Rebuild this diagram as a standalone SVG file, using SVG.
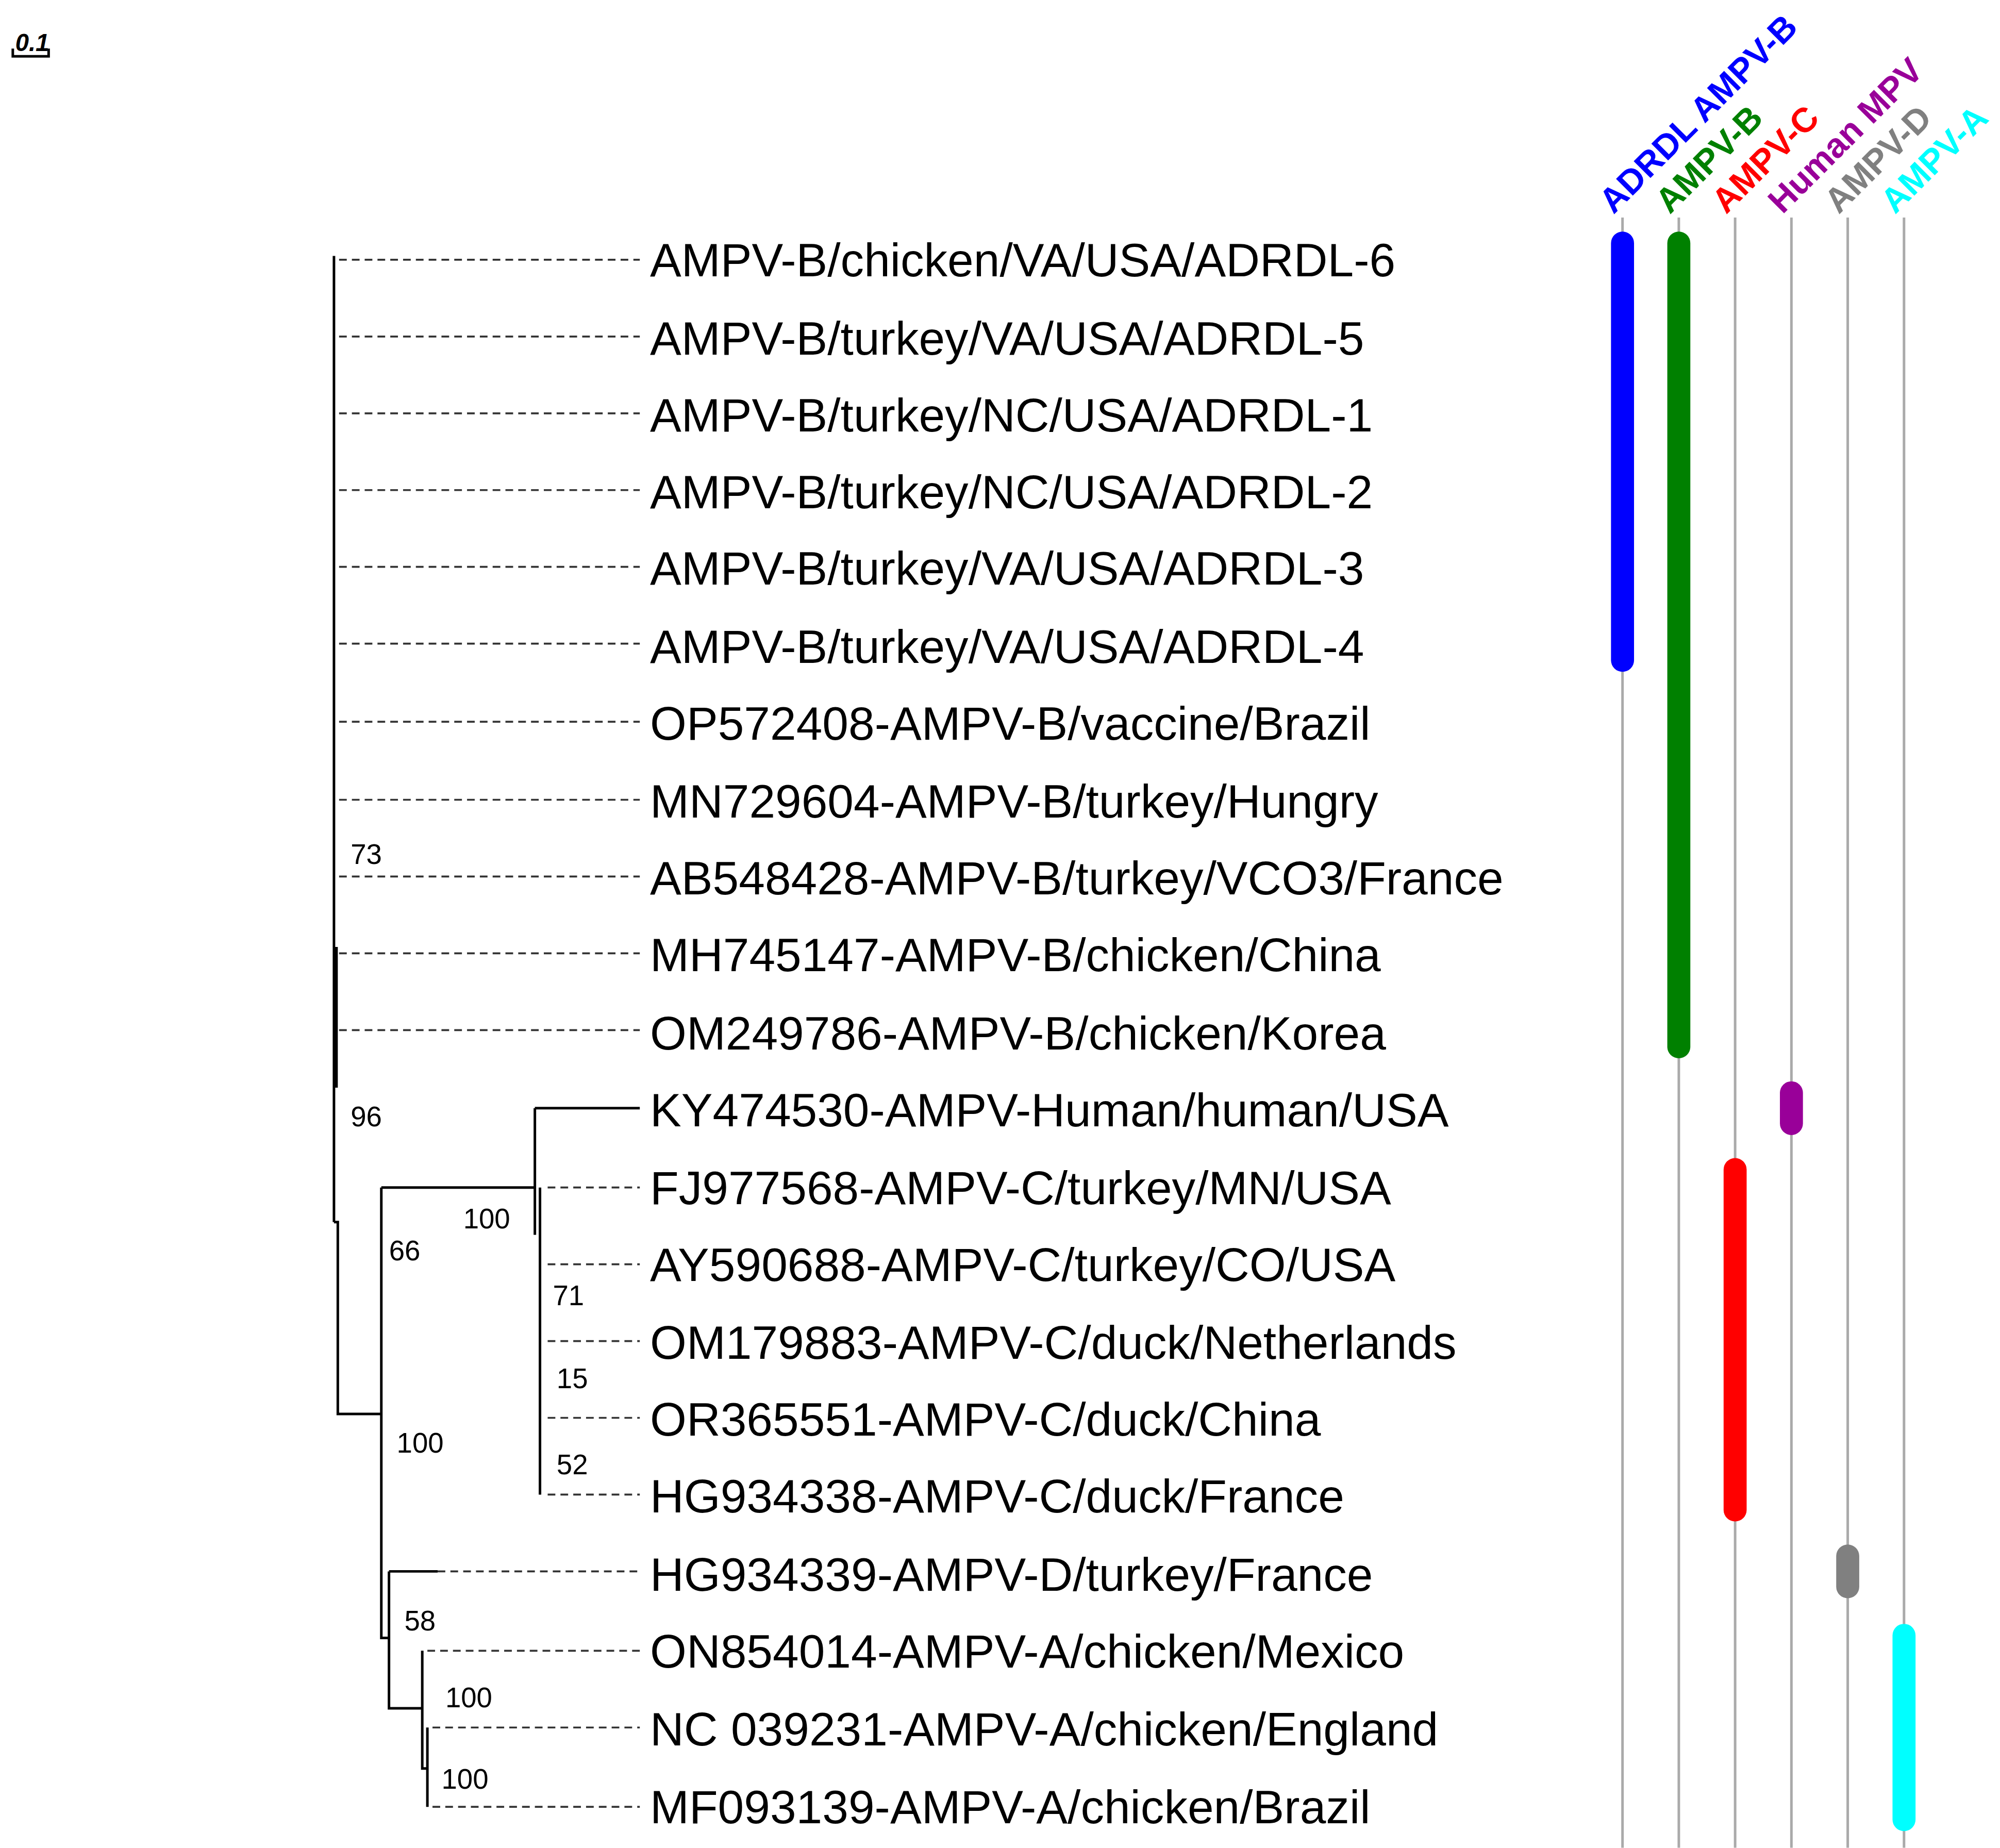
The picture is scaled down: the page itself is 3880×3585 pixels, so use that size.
<svg xmlns="http://www.w3.org/2000/svg" width="3880" height="3585" viewBox="0 0 3880 3585">
<style>
.t{font-family:"Liberation Sans",Arial,sans-serif;font-size:36.7px;fill:#000}
.b{font-family:"Liberation Sans",Arial,sans-serif;font-size:22px;fill:#000}
.h{font-family:"Liberation Sans",Arial,sans-serif;font-size:27px;font-weight:bold}
.s{stroke:#000;stroke-width:2;fill:none}
.d{stroke:#333;stroke-width:1.5;stroke-dasharray:6 4;fill:none}
.g{stroke:#aaa;stroke-width:2}
.bar{stroke-width:18;stroke-linecap:round}
</style>
<rect width="3880" height="3585" fill="#fff"/>
<g transform="scale(2.4824)">
<g id="scale">
<text x="12" y="40" style="font-family:'Liberation Sans',Arial,sans-serif;font-size:19px;font-weight:bold;font-style:italic">0.1</text>
<path d="M10 38 V44 H38 V38" class="s" stroke-width="1.5"/>
</g>
<g id="connectors">
<path class="s" d="M261 200 V955 M263 740 V850 M261 955 H264 V1105 H298 M298 928 V1280 H304 M298 928 H418 M418 866 V965 M418 866 H500 M422 928 V1168 M304 1228 V1335 H330 M304 1228 H342 M330 1290 V1382 H334 M334 1350 V1412"/>
<g class="d">
<path d="M265 203 H500 M265 263 H500 M265 323 H500 M265 383 H500 M265 443 H500 M265 503 H500 M265 564 H500 M265 625 H500 M265 685 H500 M265 745 H500 M265 805 H500"/>
<path d="M428 928 H500 M428 988 H500 M428 1048 H500 M428 1108 H500 M428 1168 H500 M342 1228 H500 M334 1290 H500 M338 1350 H500 M338 1412 H500"/>
</g>
</g>
<g id="bootstrap" class="b">
<text x="274" y="675">73</text><text x="274" y="880">96</text>
<text x="304" y="985">66</text><text x="362" y="960">100</text>
<text x="310" y="1135">100</text><text x="432" y="1020">71</text>
<text x="435" y="1085">15</text><text x="435" y="1152">52</text>
<text x="316" y="1274">58</text><text x="348" y="1334">100</text>
<text x="345" y="1398">100</text>
</g>
<g id="leaves" class="t">
<text x="508" y="216">AMPV-B/chicken/VA/USA/ADRDL-6</text>
<text x="508" y="277">AMPV-B/turkey/VA/USA/ADRDL-5</text>
<text x="508" y="337">AMPV-B/turkey/NC/USA/ADRDL-1</text>
<text x="508" y="397">AMPV-B/turkey/NC/USA/ADRDL-2</text>
<text x="508" y="457">AMPV-B/turkey/VA/USA/ADRDL-3</text>
<text x="508" y="518">AMPV-B/turkey/VA/USA/ADRDL-4</text>
<text x="508" y="578">OP572408-AMPV-B/vaccine/Brazil</text>
<text x="508" y="639">MN729604-AMPV-B/turkey/Hungry</text>
<text x="508" y="699">AB548428-AMPV-B/turkey/VCO3/France</text>
<text x="508" y="759">MH745147-AMPV-B/chicken/China</text>
<text x="508" y="820">OM249786-AMPV-B/chicken/Korea</text>
<text x="508" y="880">KY474530-AMPV-Human/human/USA</text>
<text x="508" y="941">FJ977568-AMPV-C/turkey/MN/USA</text>
<text x="508" y="1001">AY590688-AMPV-C/turkey/CO/USA</text>
<text x="508" y="1062">OM179883-AMPV-C/duck/Netherlands</text>
<text x="508" y="1122">OR365551-AMPV-C/duck/China</text>
<text x="508" y="1182">HG934338-AMPV-C/duck/France</text>
<text x="508" y="1243">HG934339-AMPV-D/turkey/France</text>
<text x="508" y="1303">ON854014-AMPV-A/chicken/Mexico</text>
<text x="508" y="1364">NC 039231-AMPV-A/chicken/England</text>
<text x="508" y="1425">MF093139-AMPV-A/chicken/Brazil</text>
</g>
<g id="columns">
<path class="g" d="M1268 170 V1444 M1312 170 V1444 M1356 170 V1444 M1400 170 V1444 M1444 170 V1444 M1488 170 V1444"/>
<line class="bar" stroke="#0000ff" x1="1268" y1="190" x2="1268" y2="516"/>
<line class="bar" stroke="#008000" x1="1312" y1="190" x2="1312" y2="818"/>
<line class="bar" stroke="#990099" x1="1400" y1="854" x2="1400" y2="878"/>
<line class="bar" stroke="#ff0000" x1="1356" y1="914" x2="1356" y2="1180"/>
<line class="bar" stroke="#808080" x1="1444" y1="1216" x2="1444" y2="1240"/>
<line class="bar" stroke="#00ffff" x1="1488" y1="1278" x2="1488" y2="1422"/>
</g>
<g id="headers" class="h">
<text transform="translate(1261 168) rotate(-45)" fill="#0000ff">ADRDL AMPV-B</text>
<text transform="translate(1305 168) rotate(-45)" fill="#008000">AMPV-B</text>
<text transform="translate(1349 168) rotate(-45)" fill="#ff0000">AMPV-C</text>
<text transform="translate(1393 168) rotate(-45)" fill="#990099">Human MPV</text>
<text transform="translate(1437 168) rotate(-45)" fill="#808080">AMPV-D</text>
<text transform="translate(1481 168) rotate(-45)" fill="#00ffff">AMPV-A</text>
</g>
</g>
</svg>
